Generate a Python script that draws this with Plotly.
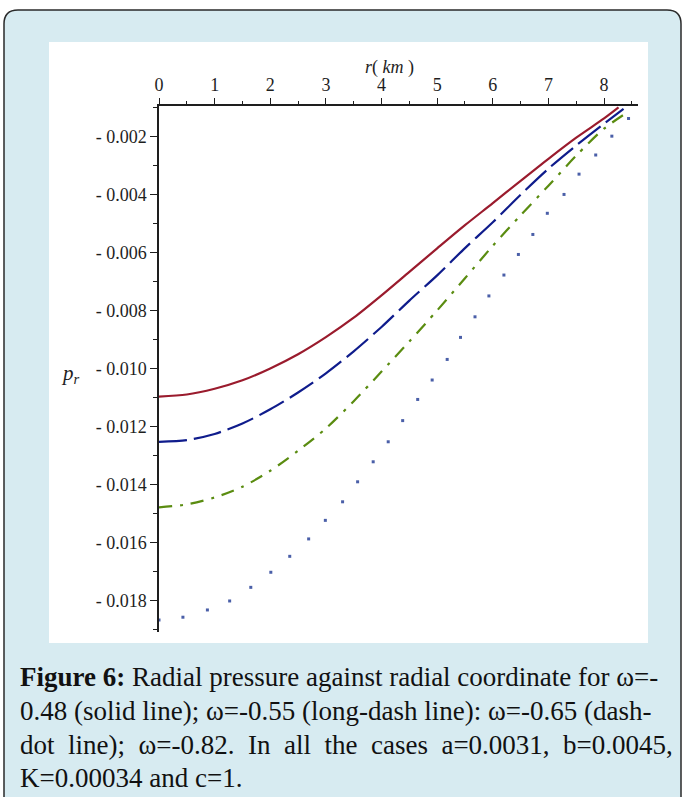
import plotly.graph_objects as go

# ---------------- data ----------------
r_solid = [0.0, 0.5, 1.0, 1.5, 2.0, 2.5, 3.0, 3.5, 4.0, 4.5, 5.0, 5.5, 6.0, 6.5, 7.0, 7.5, 8.0, 8.26]
p_solid = [-0.01096, -0.01089, -0.01069, -0.01040, -0.00999, -0.00950, -0.00891, -0.00824,
           -0.00747, -0.00666, -0.00585, -0.00505, -0.00429, -0.00352, -0.00276, -0.00203,
           -0.00137, -0.00099]

r_longdash = [0.0, 0.5, 1.0, 1.5, 2.0, 2.5, 3.0, 3.5, 4.0, 4.5, 5.0, 5.5, 6.0, 6.5, 7.0, 7.5,
              8.0, 8.35]
p_longdash = [-0.01252, -0.01246, -0.01225, -0.01189, -0.01140, -0.01082, -0.01016, -0.00940,
              -0.00856, -0.00765, -0.00678, -0.00584, -0.00495, -0.00400, -0.00310, -0.00230,
              -0.00155, -0.00104]

r_dashdot = [0.0, 0.5, 1.0, 1.5, 2.0, 2.5, 3.0, 3.5, 4.0, 4.5, 5.0, 5.5, 6.0, 6.5, 7.0, 7.5,
             8.0, 8.41]
p_dashdot = [-0.01478, -0.01468, -0.01444, -0.01407, -0.01352, -0.01283, -0.01206, -0.01112,
             -0.01010, -0.00906, -0.00799, -0.00688, -0.00576, -0.00471, -0.00369, -0.00265,
             -0.00172, -0.00117]

r_dot = [0.0, 0.43, 0.87, 1.27, 1.65, 2.01, 2.35, 2.69, 2.99, 3.30, 3.57, 3.85, 4.12, 4.38,
         4.65, 4.91, 5.18, 5.42, 5.68, 5.93, 6.20, 6.46, 6.72, 6.98, 7.28, 7.55, 7.85, 8.14, 8.44]
p_dot = [-0.01867, -0.01857, -0.01832, -0.01801, -0.01754, -0.01702, -0.01647, -0.01587,
         -0.01523, -0.01459, -0.01390, -0.01321, -0.01252, -0.01179, -0.01106, -0.01039,
         -0.00968, -0.00892, -0.00821, -0.00749, -0.00677, -0.00606, -0.00537, -0.00464,
         -0.00399, -0.00329, -0.00263, -0.00198, -0.00137]

x_ticks = [0, 1, 2, 3, 4, 5, 6, 7, 8]
x_minor = [0.5, 1.5, 2.5, 3.5, 4.5, 5.5, 6.5, 7.5, 8.5]
y_ticks = [-0.002, -0.004, -0.006, -0.008, -0.010, -0.012, -0.014, -0.016, -0.018]
y_ticklabels = ["- 0.002", "- 0.004", "- 0.006", "- 0.008", "- 0.010", "- 0.012",
                "- 0.014", "- 0.016", "- 0.018"]
y_minor = [-0.001, -0.003, -0.005, -0.007, -0.009, -0.011, -0.013, -0.015, -0.017, -0.019]

NB = "\u00a0"
caption_lines = [
    "<b>Figure 6:</b> Radial pressure against radial coordinate for \u03c9=-",
    "0.48 (solid line); \u03c9=-0.55 (long-dash line): \u03c9=-0.65 (dash-",
    (" " + NB).join(["dot", "line);", "\u03c9=-0.82.", "In", "all", "the", "cases",
                     "a=0.0031,", "b=0.0045,"]),
    "K=0.00034 and c=1.",
]

# ---------------- layout geometry ----------------
W, H = 684, 797
ML, MR, MT, MB = 159, 46, 106, 165
PW, PH = W - ML - MR, H - MT - MB


def px(x):
    return (x - ML) / PW


def py(y):
    return (H - MB - y) / PH


SERIF = "Liberation Serif, Times New Roman, serif"
AX = "#1e1e1e"

fig = go.Figure()
fig.add_trace(go.Scatter(x=r_solid, y=p_solid, mode="lines",
                         line=dict(color="#9a1b2d", width=2.2, shape="spline", smoothing=0.8),
                         hoverinfo="skip"))
fig.add_trace(go.Scatter(x=r_longdash, y=p_longdash, mode="lines",
                         line=dict(color="#0f1c8c", width=2.2, dash="28px,7px",
                                   shape="spline", smoothing=0.8), hoverinfo="skip"))
fig.add_trace(go.Scatter(x=r_dashdot, y=p_dashdot, mode="lines",
                         line=dict(color="#5a8c10", width=2.2, dash="13px,8px,3px,8px",
                                   shape="spline", smoothing=0.8), hoverinfo="skip"))
fig.add_trace(go.Scatter(x=r_dot, y=p_dot, mode="markers",
                         marker=dict(color="#4a5fa8", size=3, symbol="square"), hoverinfo="skip"))

# panel + white plot box
x0, y0, x1, r = px(4), py(10), px(681), 14
rx, ry = r / PW, r / PH
yb = py(830)
panel_path = (f"M {x0},{yb} L {x0},{y0 - ry} Q {x0},{y0} {x0 + rx},{y0} "
              f"L {x1 - rx},{y0} Q {x1},{y0} {x1},{y0 - ry} L {x1},{yb} Z")
shapes = [
    dict(type="path", path=panel_path, xref="paper", yref="paper", layer="below",
         fillcolor="#d7ebf1", line=dict(color="#2a2a2a", width=1.5)),
    dict(type="rect", xref="paper", yref="paper", x0=px(49), x1=px(648), y0=py(42), y1=py(643),
         fillcolor="white", line=dict(width=0), layer="below"),
]

annotations = [
    dict(text="<i>r</i>( <i>km</i> )", x=px(389), y=py(67), xref="paper", yref="paper",
         showarrow=False, font=dict(family=SERIF, size=18, color=AX),
         xanchor="center", yanchor="middle"),
    dict(text="<i>p</i><sub><i>r</i></sub>", x=px(70), y=py(374), xref="paper", yref="paper",
         showarrow=False, font=dict(family=SERIF, size=21, color=AX),
         xanchor="center", yanchor="middle"),
]
cap_y = [677, 711, 745, 778]
for line, yy in zip(caption_lines, cap_y):
    annotations.append(dict(text=line, x=px(18), y=py(yy), xref="paper", yref="paper",
                            showarrow=False, xanchor="left", yanchor="middle",
                            font=dict(family=SERIF, size=27, color="#111")))

fig.update_layout(
    width=W, height=H, margin=dict(l=ML, r=MR, t=MT, b=MB, pad=0),
    paper_bgcolor="white", plot_bgcolor="rgba(0,0,0,0)",
    showlegend=False, shapes=shapes, annotations=annotations,
    xaxis=dict(range=[0, 8.61], side="top", showline=True, linecolor=AX, linewidth=1.5,
               ticks="outside", ticklen=6, tickwidth=1.3, tickcolor=AX,
               tickvals=x_ticks, ticktext=[str(v) for v in x_ticks],
               tickfont=dict(family=SERIF, size=18, color=AX),
               minor=dict(ticks="outside", ticklen=3, tickwidth=1.2, tickcolor=AX, tickvals=x_minor),
               showgrid=False, zeroline=False),
    yaxis=dict(range=[-0.01908, -0.00094], showline=True, linecolor=AX, linewidth=1.5,
               ticks="outside", ticklen=7, tickwidth=1.3, tickcolor=AX,
               tickvals=y_ticks, ticktext=y_ticklabels,
               tickfont=dict(family=SERIF, size=18, color=AX),
               minor=dict(ticks="outside", ticklen=4, tickwidth=1.2, tickcolor=AX, tickvals=y_minor),
               showgrid=False, zeroline=False),
)

fig.write_html("out.html")
